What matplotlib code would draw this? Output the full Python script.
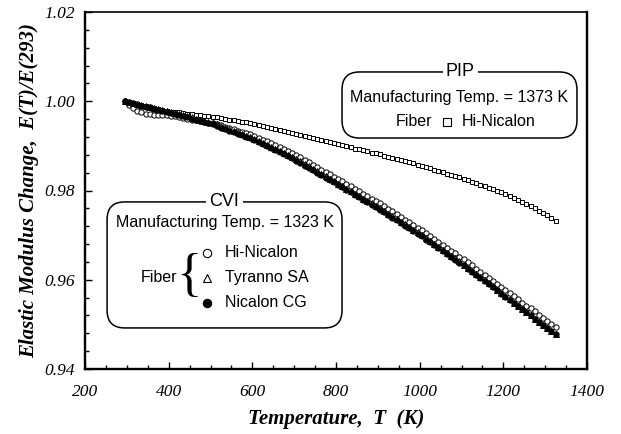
import matplotlib
matplotlib.use("Agg")
import matplotlib.pyplot as plt
from matplotlib.patches import FancyBboxPatch
from matplotlib.ticker import MultipleLocator
from matplotlib import font_manager

# Temperatur (K)
temp_k = [295, 305, 315, 325, 335, 345, 355, 365, 375, 385,
          395, 405, 415, 425, 435, 445, 455, 465, 475, 485,
          495, 505, 515, 525, 535, 545, 555, 565, 575, 585,
          595, 605, 615, 625, 635, 645, 655, 665, 675, 685,
          695, 705, 715, 725, 735, 745, 755, 765, 775, 785,
          795, 805, 815, 825, 835, 845, 855, 865, 875, 885,
          895, 905, 915, 925, 935, 945, 955, 965, 975, 985,
          995, 1005, 1015, 1025, 1035, 1045, 1055, 1065, 1075, 1085,
          1095, 1105, 1115, 1125, 1135, 1145, 1155, 1165, 1175, 1185,
          1195, 1205, 1215, 1225, 1235, 1245, 1255, 1265, 1275, 1285,
          1295, 1305, 1315, 1325]

# PIP, Hi-Nicalon
pip_hi_nicalon = [1.0000, 0.9998, 0.9996, 0.9994, 0.9992, 0.9989, 0.9987, 0.9985, 0.9983, 0.9981,
                  0.9979, 0.9977, 0.9976, 0.9975, 0.9974, 0.9972, 0.9971, 0.9970, 0.9969, 0.9968,
                  0.9967, 0.9965, 0.9964, 0.9962, 0.9961, 0.9959, 0.9957, 0.9956, 0.9954, 0.9953,
                  0.9951, 0.9949, 0.9947, 0.9944, 0.9942, 0.9940, 0.9938, 0.9936, 0.9933, 0.9931,
                  0.9929, 0.9927, 0.9924, 0.9922, 0.9920, 0.9917, 0.9915, 0.9913, 0.9910, 0.9908,
                  0.9906, 0.9904, 0.9901, 0.9899, 0.9897, 0.9894, 0.9892, 0.9890, 0.9888, 0.9885,
                  0.9883, 0.9881, 0.9878, 0.9876, 0.9873, 0.9871, 0.9868, 0.9866, 0.9863, 0.9861,
                  0.9858, 0.9856, 0.9853, 0.9850, 0.9847, 0.9844, 0.9841, 0.9838, 0.9835, 0.9832,
                  0.9830, 0.9826, 0.9823, 0.9820, 0.9816, 0.9813, 0.9810, 0.9806, 0.9803, 0.9800,
                  0.9797, 0.9793, 0.9788, 0.9783, 0.9779, 0.9774, 0.9769, 0.9765, 0.9760, 0.9755,
                  0.9750, 0.9745, 0.9739, 0.9732]

# CVI, Hi-Nicalon
cvi_hi_nicalon = [1.0000, 0.9992, 0.9985, 0.9979, 0.9975, 0.9972, 0.9971, 0.9970, 0.9970, 0.9970,
                  0.9969, 0.9968, 0.9967, 0.9965, 0.9963, 0.9961, 0.9959, 0.9957, 0.9955, 0.9953,
                  0.9952, 0.9951, 0.9949, 0.9946, 0.9943, 0.9940, 0.9938, 0.9934, 0.9932, 0.9928,
                  0.9926, 0.9923, 0.9918, 0.9914, 0.9910, 0.9906, 0.9901, 0.9897, 0.9893, 0.9889,
                  0.9884, 0.9879, 0.9874, 0.9868, 0.9864, 0.9858, 0.9853, 0.9847, 0.9842, 0.9836,
                  0.9831, 0.9826, 0.9821, 0.9815, 0.9810, 0.9804, 0.9799, 0.9793, 0.9788, 0.9782,
                  0.9777, 0.9771, 0.9765, 0.9759, 0.9753, 0.9747, 0.9741, 0.9735, 0.9729, 0.9723,
                  0.9717, 0.9711, 0.9704, 0.9698, 0.9691, 0.9685, 0.9678, 0.9672, 0.9665, 0.9659,
                  0.9652, 0.9646, 0.9639, 0.9632, 0.9625, 0.9618, 0.9611, 0.9604, 0.9597, 0.9590,
                  0.9583, 0.9577, 0.9570, 0.9563, 0.9556, 0.9549, 0.9542, 0.9536, 0.9529, 0.9522,
                  0.9515, 0.9508, 0.9501, 0.9495]

# CVI, Tyranno SA
cvi_tyranno = [1.0000, 0.9998, 0.9996, 0.9994, 0.9991, 0.9989, 0.9987, 0.9985, 0.9983, 0.9981,
               0.9978, 0.9976, 0.9974, 0.9971, 0.9969, 0.9966, 0.9964, 0.9961, 0.9959, 0.9956,
               0.9954, 0.9951, 0.9948, 0.9944, 0.9941, 0.9937, 0.9934, 0.9930, 0.9927, 0.9923,
               0.9920, 0.9916, 0.9911, 0.9907, 0.9902, 0.9898, 0.9893, 0.9889, 0.9884, 0.9880,
               0.9875, 0.9870, 0.9865, 0.9859, 0.9854, 0.9848, 0.9843, 0.9837, 0.9832, 0.9826,
               0.9821, 0.9815, 0.9810, 0.9804, 0.9799, 0.9793, 0.9788, 0.9782, 0.9777, 0.9771,
               0.9766, 0.9760, 0.9754, 0.9748, 0.9742, 0.9736, 0.9730, 0.9724, 0.9718, 0.9712,
               0.9706, 0.9700, 0.9693, 0.9687, 0.9680, 0.9674, 0.9667, 0.9661, 0.9654, 0.9648,
               0.9641, 0.9634, 0.9627, 0.9620, 0.9613, 0.9606, 0.9599, 0.9592, 0.9585, 0.9578,
               0.9571, 0.9563, 0.9556, 0.9549, 0.9542, 0.9535, 0.9528, 0.9520, 0.9513, 0.9506,
               0.9499, 0.9492, 0.9485, 0.9479]

# CVI, Nicalon CG
cvi_nicalon_cg = [1.0000, 0.9998, 0.9995, 0.9993, 0.9990, 0.9988, 0.9986, 0.9983, 0.9981, 0.9979,
                  0.9976, 0.9974, 0.9971, 0.9969, 0.9966, 0.9964, 0.9961, 0.9959, 0.9956, 0.9954,
                  0.9951, 0.9948, 0.9945, 0.9941, 0.9938, 0.9934, 0.9931, 0.9927, 0.9924, 0.9920,
                  0.9917, 0.9913, 0.9908, 0.9904, 0.9899, 0.9895, 0.9890, 0.9886, 0.9881, 0.9877,
                  0.9872, 0.9867, 0.9862, 0.9856, 0.9851, 0.9845, 0.9840, 0.9834, 0.9829, 0.9823,
                  0.9818, 0.9812, 0.9807, 0.9801, 0.9796, 0.9790, 0.9785, 0.9779, 0.9774, 0.9768,
                  0.9763, 0.9757, 0.9751, 0.9745, 0.9739, 0.9733, 0.9727, 0.9721, 0.9715, 0.9709,
                  0.9703, 0.9697, 0.9690, 0.9684, 0.9677, 0.9671, 0.9664, 0.9658, 0.9651, 0.9645,
                  0.9638, 0.9632, 0.9625, 0.9618, 0.9611, 0.9604, 0.9597, 0.9590, 0.9583, 0.9576,
                  0.9569, 0.9562, 0.9555, 0.9548, 0.9541, 0.9534, 0.9527, 0.9520, 0.9513, 0.9506,
                  0.9499, 0.9492, 0.9485, 0.9478]

x_ticks = [200, 400, 600, 800, 1000, 1200, 1400]
y_ticks = [0.94, 0.96, 0.98, 1.00, 1.02]

# lettertypes
names = {f.name for f in font_manager.fontManager.ttflist}
BOX_FONT = "Liberation Sans Narrow" if "Liberation Sans Narrow" in names else "Liberation Sans"
BOX_SIZE = 14 if BOX_FONT == "Liberation Sans Narrow" else 11.5
SERIF = "Liberation Serif"

fig = plt.figure(figsize=(6.21, 4.34), dpi=100)
ax = fig.add_axes([85 / 621, 65 / 434, 502 / 621, 357 / 434])

mk = dict(linestyle="none", markeredgecolor="black", markeredgewidth=0.7)
ax.plot(temp_k, pip_hi_nicalon, marker="s", markersize=3.4, markerfacecolor="white", **mk)
ax.plot(temp_k, cvi_hi_nicalon, marker="o", markersize=3.8, markerfacecolor="white", **mk)
ax.plot(temp_k, cvi_tyranno, marker="^", markersize=3.8, markerfacecolor="white", **mk)
ax.plot(temp_k, cvi_nicalon_cg, marker="o", markersize=3.8, markerfacecolor="black", **mk)

ax.set_xlim(200, 1400)
ax.set_ylim(0.94, 1.02)
ax.set_xticks(x_ticks)
ax.set_yticks(y_ticks)
ax.set_xticklabels([str(v) for v in x_ticks])
ax.set_yticklabels([f"{v:.2f}" for v in y_ticks])
ax.xaxis.set_minor_locator(MultipleLocator(50))
ax.yaxis.set_minor_locator(MultipleLocator(0.004))
ax.tick_params(which="both", direction="in", top=False, right=False)
ax.tick_params(which="major", length=5, width=1.0)
ax.tick_params(which="minor", length=3, width=1.0)
ax.tick_params(axis="x", pad=11)
ax.tick_params(axis="y", pad=7)
for lab in ax.get_xticklabels() + ax.get_yticklabels():
    lab.set_family(SERIF)
    lab.set_style("italic")
    lab.set_fontsize(12.5)
for side in ["left", "bottom", "right"]:
    ax.spines[side].set_linewidth(1.7)
ax.spines["top"].set_linewidth(1.2)

ax.set_xlabel("Temperature,  T  (K)", family=SERIF, style="italic", weight="bold",
              fontsize=15, labelpad=6)
ax.set_ylabel("Elastic Modulus Change,  E(T)/E(293)", family=SERIF, style="italic",
              weight="bold", fontsize=15, labelpad=4)

# kaders met afgeronde hoeken
aspect = 502 / 357

def kader(x0, y0, x1, y1):
    p = FancyBboxPatch((x0, y0), x1 - x0, y1 - y0, transform=ax.transAxes,
                       boxstyle="round,pad=0,rounding_size=0.035",
                       mutation_aspect=aspect, facecolor="white",
                       edgecolor="black", linewidth=1.1, zorder=5)
    ax.add_patch(p)

txt = dict(transform=ax.transAxes, family=BOX_FONT, fontsize=BOX_SIZE, zorder=7,
           va="center")

# PIP kader
kader(0.512, 0.647, 0.980, 0.832)
ax.text(0.748, 0.832, "PIP", ha="center", bbox=dict(facecolor="white", edgecolor="none", pad=2.5),
        **{**txt, "fontsize": BOX_SIZE + 1.5})
ax.text(0.746, 0.760, "Manufacturing Temp. = 1373 K", ha="center", **txt)
ax.text(0.691, 0.693, "Fiber", ha="right", **txt)
ax.plot([0.721], [0.693], marker="s", markersize=6, markerfacecolor="white",
        markeredgecolor="black", markeredgewidth=0.8, transform=ax.transAxes, zorder=7)
ax.text(0.751, 0.693, "Hi-Nicalon", ha="left", **txt)

# CVI kader
kader(0.044, 0.115, 0.512, 0.468)
ax.text(0.278, 0.468, "CVI", ha="center", bbox=dict(facecolor="white", edgecolor="none", pad=2.5),
        **{**txt, "fontsize": BOX_SIZE + 1.5})
ax.text(0.278, 0.409, "Manufacturing Temp. = 1323 K", ha="center", **txt)
ax.text(0.183, 0.255, "Fiber", ha="right", **txt)
ax.text(0.207, 0.258, "{", ha="center", transform=ax.transAxes, family=SERIF,
        fontsize=38, va="center", zorder=7)
cvi_labels = ["Hi-Nicalon", "Tyranno SA", "Nicalon CG"]
cvi_marks = [("o", "white"), ("^", "white"), ("o", "black")]
for i, (lab, (m, fc)) in enumerate(zip(cvi_labels, cvi_marks)):
    yy = 0.325 - i * 0.07
    ax.plot([0.243], [yy], marker=m, markersize=6, markerfacecolor=fc,
            markeredgecolor="black", markeredgewidth=0.8, transform=ax.transAxes, zorder=7)
    ax.text(0.279, yy, lab, ha="left", **txt)

fig.savefig("out.png", dpi=100)
